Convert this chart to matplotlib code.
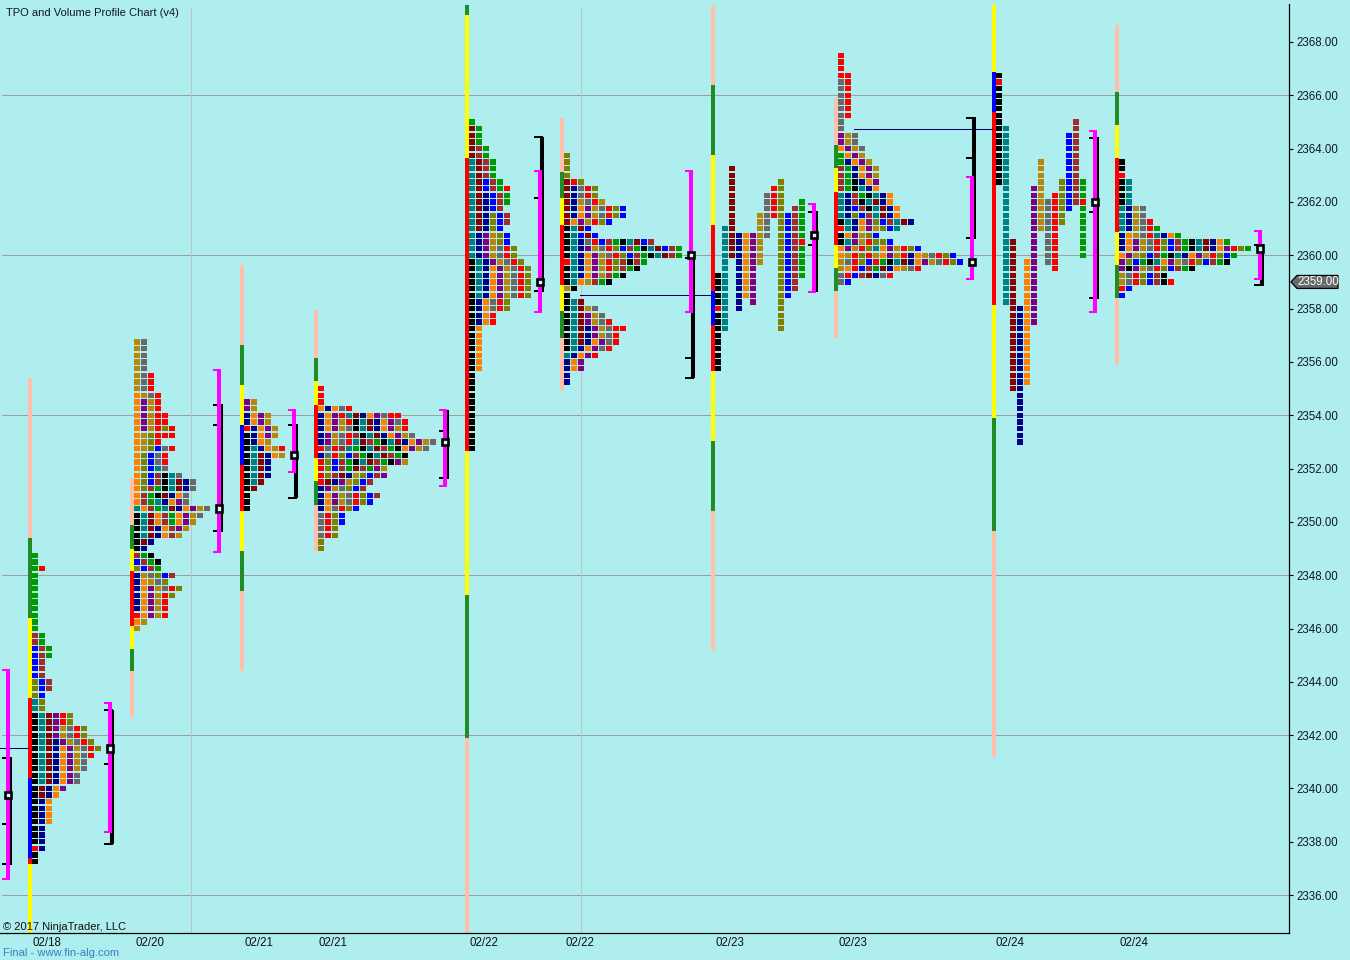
import matplotlib
matplotlib.use("Agg")
from matplotlib import pyplot as plt
from matplotlib.patches import Polygon, Rectangle

plt.rcParams['font.family'] = ['Liberation Sans', 'DejaVu Sans']

BG = '#AFEEEE'
LETTER_COLORS = {
    'K': '#000000', 'T': '#008080', 'D': '#8B0000', 'P': '#800080',
    'N': '#00008B', 'O': '#FF7F00', 'G': '#009900', 'R': '#FF0000',
    'B': '#0000FF', 'A': '#A52A2A', 'Y': '#B8860B', 'M': '#696969',
    'L': '#808000', 'S': '#228B22', 'W': '#FFFF00', 'E': '#FFBFA8',
}

# TPO rows, top row first, one letter per cell, next row is 0.25 lower.
P1_TOP = 2348.75
P1_ROWS = ["G", "G", "GR", "G", "G", "G", "G", "G", "G", "G", "G", "G",
           "AG", "AG", "BAG", "BAG", "BA", "BA", "BA", "LBA", "LBA", "LB",
           "TL", "TL", "KTDPRL", "KTDPRL", "KTDPYMRL", "KTDPYMRL",
           "KTDNPYMRL", "KTDNOPYMRL", "KTDNOPYMR", "KTDNOPYM", "KTDNOPYM",
           "KTDNOPM", "KTDNOPM", "KDNOP", "KDNO", "KNO", "KNO", "KNO", "KNO",
           "KN", "KN", "KN", "RN", "K", "K"]

P2_TOP = 2356.75
P2_ROWS = ["YM", "YM", "YM", "YM", "YM", "YMR", "YMR", "YMR", "OYMR", "OPYR",
           "OPYR", "OPYRR", "OPYRR", "OPYRLR", "OYLRRR", "OYLR", "OYLBMR",
           "OLBMR", "OLBMR", "OLBTM", "OLBAKTM", "OLBAKTDNM", "OLAGKTDNM",
           "OAGKDNOM", "OAGTNOPM", "TOAGTDNOPYM", "KTDOAGOPYM", "KTDOAGOPY",
           "KTDNOAPY", "KTDNOAY", "KDN", "KN", "AGK", "BAGK", "LBAG", "NYMLBA",
           "NOYML", "NOPYMRL", "NOPYRL", "NOPYR", "NOPYR", "ROPYR", "OY", "Y"]

P3_TOP = 2354.5
P3_ROWS = ["PY", "PY", "NOPY", "NOPY", "RNOPY", "KNOPY", "KNOY", "KTNOYR",
           "KTDNOY", "KTDN", "KTDN", "KTDN", "KTD", "KD", "K", "K", "K"]

P4_TOP = 2355.0
P4_ROWS = ["R", "R", "R", "ONOMR", "NOPRTDNOPMRR", "NOPYRKTDNOPMR",
           "NOPYMKTDNOPYR", "NPYMRAKTDNOPYM", "NPYMRTDAGKTDNOPYM",
           "RMRATGKTDAGKOPYM", "NMRLBAGKTDAGK", "RLBAGKTDAGKPY", "RLBAGDAGPY",
           "RLADNYLBAP", "RDNPYLBA", "NPYMLBA", "NOPYMRLBA", "NOPYMRLB",
           "NOMRLB", "MRLB", "MRLB", "MRL", "MRL", "L", "L"]

P5_TOP = 2365.0
P5_ROWS = ["G", "DG", "DG", "DG", "DAG", "DAG", "TDAG", "TDAG", "TDAG", "TDBAG",
           "TDBAGR", "TDNBAG", "TDNBAG", "TDNBA", "TDNLBA", "TDNLBA", "TDNLB",
           "TNPYLB", "TNPYLB", "TNPYMRL", "TNPYMRL", "KTNPYMRL", "KTNOPYMRL",
           "KTNOPYMRL", "KTNOPYMRL", "KTNOPYMRL", "KTNOPYMRL", "KNOMRL",
           "KNOMRL", "KNOR", "KNOR", "KO", "KO", "KO", "KO", "KO", "KO", "KO",
           "K", "K", "K", "K", "K", "K", "K", "K", "K", "K", "K", "K"]

P6_TOP = 2363.75
P6_ROWS = ["L", "L", "L", "L", "DRL", "DNMRL", "DNMRL", "DNYMRY", "DNOPYMRLB",
           "DNOPYMRLB", "DOPYRLB", "KTDB", "KTBDB", "KTNMRBAGKTDBA",
           "KTNPYMRLBAGKTDBAG", "KTNOPYMRLBAGKTDAG", "RTNOPYRLAKAG",
           "KTNOPYRLAGK", "KTNOPYAGK", "KTOYAGK", "YK", "K", "KTD", "KTDYM",
           "KTDPYM", "KTDPYMR", "KTDNPYMRR", "KTDNPYMR", "KTDNOPMR", "KTNOPMR",
           "TNOPR", "NOP", "NOP", "N", "N"]

# P7 and P9 have gaps, so they are kept as runs: (column, letter, top, bottom).
P7_RUNS = [(0, 'K', 2359.25, 2355.75), (0, 'R', 2358.0, 2358.0),
           (1, 'T', 2361.0, 2357.25), (2, 'D', 2363.25, 2360.0),
           (3, 'N', 2360.75, 2358.0), (4, 'O', 2360.75, 2358.5),
           (5, 'P', 2360.75, 2358.25), (6, 'Y', 2361.5, 2359.75),
           (7, 'M', 2362.25, 2360.75), (8, 'R', 2362.5, 2361.5),
           (9, 'L', 2362.75, 2357.25), (10, 'B', 2361.5, 2358.5),
           (11, 'A', 2361.75, 2358.75), (12, 'G', 2362.0, 2359.25),
           (12, 'R', 2360.5, 2360.5)]

P8_TOP = 2367.5
P8_ROWS = ["R", "R", "R", "RR", "MR", "MR", "MR", "MR", "MR", "MR", "M", "M",
           "PYM", "PYM", "OPYM", "GOPY", "GNOPY", "AGNOPY", "AGNOPY", "AGKNOP",
           "AGKTNO", "TNAGKTNO", "TNAKTDNO", "TNBAKTDNO", "TNLBATDNO",
           "KTNOPLBATDN", "RTNOPYLBT", "KOPYLB", "KTPYRLLB", "OPYRLTOPYRLB",
           "OYRLRYOPYRNOYMRLB", "YMRLBRGKTDNOPYMRLB", "YORBAGDNOYMR",
           "MRBADNMR", "MB"]

P9_RUNS = [(0, 'K', 2366.75, 2362.75), (0, 'R', 2366.5, 2366.5),
           (1, 'T', 2364.75, 2358.25), (2, 'D', 2360.5, 2355.0),
           (3, 'N', 2358.0, 2353.0), (4, 'O', 2359.75, 2355.25),
           (5, 'P', 2362.5, 2357.5), (6, 'Y', 2363.5, 2361.0),
           (7, 'M', 2362.0, 2359.75), (8, 'R', 2362.25, 2359.5),
           (9, 'L', 2362.75, 2361.25), (10, 'B', 2364.5, 2361.75),
           (11, 'A', 2365.0, 2362.0), (12, 'G', 2362.75, 2360.0),
           (12, 'R', 2362.0, 2362.0)]

P10_TOP = 2363.5
P10_ROWS = ["K", "K", "R", "KT", "KT", "KT", "KT", "TNYM", "TNYM", "TNYMR",
            "TNYMRG", "NOYMRTNOG", "NOPYMRLBAGKTDNOG", "NOPYMRLBAGKTDNOPRLG",
            "OPYLBAGKTNOPYRLBG", "PLBGKTOPYMRLBAGK", "PKPYMRLBAGK", "YMRLBAK",
            "YMRLBAKR", "RB", "B"]

# period bars, prices are the segment edges from top to bottom
BAR_PRICES = [
    [2355.4, 2349.4, 2346.4, 2343.4, 2340.4, 2337.4, 2337.17, 2334.58],
    [2351.65, 2349.9, 2349.0, 2348.15, 2346.1, 2345.25, 2344.4, 2342.7],
    [2359.64, 2356.64, 2355.13, 2353.63, 2352.13, 2350.4, 2348.9, 2347.4, 2344.4],
    [2357.95, 2356.16, 2355.28, 2354.38, 2352.4, 2351.53, 2350.63, 2348.9],
    [2369.39, 2369.01, 2363.65, 2352.66, 2347.26, 2341.89, 2334.58],
    [2365.15, 2363.12, 2362.15, 2361.14, 2358.89, 2357.91, 2356.9, 2354.91],
    [2369.39, 2366.39, 2363.76, 2361.14, 2358.66, 2357.39, 2355.66, 2353.03, 2350.41, 2345.16],
    [2365.9, 2364.14, 2363.27, 2362.37, 2360.39, 2359.52, 2358.66, 2356.9],
    [2369.39, 2366.87, 2365.37, 2358.13, 2353.9, 2349.66, 2341.18],
    [2368.64, 2366.12, 2364.89, 2363.65, 2360.87, 2359.64, 2358.4, 2355.88],
]
BAR_COLORS = ["ESWRBRW", "ESWRWSE", "ESWBRWSE", "ESWRWSE", "SWRWSE", "ESWRWSE",
              "ESWRBRWSE", "ESWRWSE", "WBRWSE", "ESWRWSE"]

# right hand brackets, first entry is the partial profile at the left edge
VALUE_HIGH = [2344.44, 2343.2, 2355.7, 2354.2, 2354.2, 2363.16, 2363.16, 2361.92, 2362.94, 2364.66, 2360.91]
VALUE_LOW = [2336.6, 2338.37, 2348.87, 2351.87, 2351.35, 2357.87, 2357.87, 2358.62, 2359.11, 2357.87, 2359.11]
RANGE_HIGH = [2341.18, 2342.94, 2354.42, 2353.67, 2354.2, 2364.44, 2360.12, 2361.66, 2365.19, 2364.44, 2360.42]
RANGE_LOW = [2337.13, 2337.92, 2349.62, 2350.9, 2351.6, 2358.62, 2355.4, 2358.62, 2360.61, 2358.36, 2358.85]
RANGE_TICKS = [[2341.14, 2338.67, 2337.17], [2342.94, 2340.92, 2337.92],
               [2354.38, 2353.63, 2349.66], [2353.65, 2350.9], [2353.4, 2351.65],
               [2364.44, 2362.15, 2358.66], [2359.9, 2356.15, 2355.4],
               [2361.62, 2360.39], [2365.15, 2363.65, 2360.65],
               [2364.4, 2361.62, 2358.4], [2360.39, 2358.89]]
POC = [2339.75, 2341.5, 2350.5, 2352.5, 2353.0, 2359.0, 2360.0, 2360.75, 2359.75, 2362.0, 2360.25]

NAKED_LINES = [(0, 28, 2341.52), (580, 711, 2358.5), (854, 992, 2364.75)]

Y_TICKS = list(range(2336, 2370, 2))
GRID_PRICES = [2366, 2360, 2354, 2348, 2342, 2336]
X_LABELS = ["02/18", "02/20", "02/21", "02/21", "02/22", "02/22", "02/23", "02/23", "02/24", "02/24"]
X_LABEL_POS = [47, 149.5, 259, 333, 484, 580, 730, 853, 1010, 1134]
LAST_PRICE = 2359.0

# pixel layout of the original
PROFILE_X = [32, 134, 244, 318, 469, 564, 715, 838, 996, 1119]
BRACKET_X = [8, 110, 219, 294, 445, 540, 691, 814, 972, 1095, 1260]
VLINES = [191, 581]
PITCH = 7

fig = plt.figure(figsize=(13.5, 9.6), dpi=100, facecolor=BG)
ax = fig.add_axes([0, 27 / 960, 1289 / 1350, 933 / 960], facecolor=BG)
ax.set_xlim(0, 1289)
ax.set_ylim(2334.58, 2369.575)


def rows_to_cells(x0, top, rows):
    cells = []
    for i, row in enumerate(rows):
        for j, letter in enumerate(row):
            cells.append((x0 + PITCH * j, top - 0.25 * i, letter))
    return cells


def runs_to_cells(x0, runs):
    cells = {}
    for col, letter, hi, lo in runs:
        price = hi
        while price >= lo:
            cells[(col, price)] = letter
            price -= 0.25
    return [(x0 + PITCH * c, p, l) for (c, p), l in cells.items()]


cells = rows_to_cells(PROFILE_X[0], P1_TOP, P1_ROWS)
cells += rows_to_cells(PROFILE_X[1], P2_TOP, P2_ROWS)
cells += rows_to_cells(PROFILE_X[2], P3_TOP, P3_ROWS)
cells += rows_to_cells(PROFILE_X[3], P4_TOP, P4_ROWS)
cells += rows_to_cells(PROFILE_X[4], P5_TOP, P5_ROWS)
cells += rows_to_cells(PROFILE_X[5], P6_TOP, P6_ROWS)
cells += runs_to_cells(PROFILE_X[6], P7_RUNS)
cells += rows_to_cells(PROFILE_X[7], P8_TOP, P8_ROWS)
cells += runs_to_cells(PROFILE_X[8], P9_RUNS)
cells += rows_to_cells(PROFILE_X[9], P10_TOP, P10_ROWS)

# grid first, everything else sits on top of it
for p in GRID_PRICES:
    ax.plot([2, 1289], [p, p], color='#A0A0A0', lw=0.75, zorder=1)
for x in VLINES:
    ax.plot([x, x], [2334.58, 2369.27], color='#BFC4C6', lw=0.75, zorder=1)

ax.bar([c[0] for c in cells], [0.2] * len(cells), width=6, align='edge',
       bottom=[c[1] - 0.1 for c in cells],
       color=[LETTER_COLORS[c[2]] for c in cells], linewidth=0,
       antialiased=False, zorder=3)

# period bars
for x0, prices, letters in zip(PROFILE_X, BAR_PRICES, BAR_COLORS):
    for hi, lo, letter in zip(prices[:-1], prices[1:], letters):
        ax.bar(x0 - 4, hi - lo, width=4, bottom=lo, align='edge',
               color=LETTER_COLORS[letter], linewidth=0, antialiased=False, zorder=2)

# lines left from an untouched point of control
for x1, x2, p in NAKED_LINES:
    ax.plot([x1, x2], [p, p], color='#00006A', lw=0.75, zorder=2)

# black range bracket, then magenta value area, then POC box
for i, x in enumerate(BRACKET_X):
    ax.plot([x + 2, x + 2], [RANGE_LOW[i], RANGE_HIGH[i]], color='black', lw=2.9,
            solid_capstyle='butt', zorder=4)
    for t in RANGE_TICKS[i]:
        ax.plot([x - 6, x + 3], [t, t], color='black', lw=1.45,
                solid_capstyle='butt', zorder=4)
    ax.plot([x, x], [VALUE_LOW[i], VALUE_HIGH[i]], color='#FF00FF', lw=2.9,
            solid_capstyle='butt', zorder=5)
    for t in (VALUE_HIGH[i], VALUE_LOW[i]):
        ax.plot([x - 6, x + 2], [t, t], color='#FF00FF', lw=1.45,
                solid_capstyle='butt', zorder=5)
    ax.add_patch(Rectangle((x - 2.7, POC[i] - 0.12), 5.4, 0.24, facecolor='#DDF7F7',
                           edgecolor='black', linewidth=1.9, zorder=6))

for side in ('left', 'top'):
    ax.spines[side].set_visible(False)
for side in ('right', 'bottom'):
    ax.spines[side].set_linewidth(0.9)
ax.spines['right'].set_bounds(2334.58, 2369.42)
ax.yaxis.tick_right()
ax.set_yticks(Y_TICKS)
ax.set_yticklabels(['%.2f' % v for v in Y_TICKS], fontsize=8.3, color='#101828')
ax.tick_params(axis='y', length=3, width=0.8, pad=2)
ax.set_xticks(X_LABEL_POS)
ax.set_xticklabels(X_LABELS, fontsize=8.3, color='#101010')
ax.tick_params(axis='x', length=0, pad=3)

# last price marker out in the margin
tag_y = ax.transData.transform((0, LAST_PRICE))[1]
tag = [(1291, tag_y), (1297, tag_y + 6.5), (1338, tag_y + 6.5), (1338, tag_y - 6.5), (1297, tag_y - 6.5)]
fig.add_artist(Polygon(tag, closed=True, transform=None, facecolor='#696969',
                       edgecolor='black', linewidth=0.9, zorder=7))
fig.text(1318 / 1350, tag_y / 960, '%.2f' % LAST_PRICE, color='white', fontsize=8.3,
         ha='center', va='center', zorder=8)

fig.text(6 / 1350, 1 - 12.5 / 960, "TPO and Volume Profile Chart (v4)", fontsize=8, color='#101828', va='center')
fig.text(3 / 1350, 1 - 927 / 960, "\u00a9 2017 NinjaTrader, LLC", fontsize=8, color='#101010', va='center', zorder=9)
fig.text(3 / 1350, 1 - 953 / 960, "Final - www.fin-alg.com", fontsize=8.1, color='#3A80C0', va='center')

fig.savefig('out.png', dpi=100, facecolor=BG)
